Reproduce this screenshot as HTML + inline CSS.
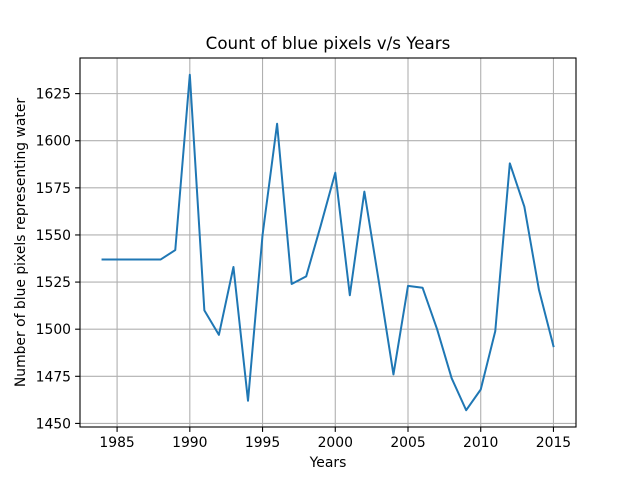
<!DOCTYPE html>
<html><head><meta charset="utf-8"><style>
body{margin:0;background:#fff;}
svg{display:block;font-family:"DejaVu Sans","Liberation Sans",sans-serif;}
</style></head><body>
<svg id="chart" width="640" height="480"></svg>
<script>
const years=[1984,1985,1986,1987,1988,1989,1990,1991,1992,1993,1994,1995,1996,1997,1998,1999,2000,2001,2002,2003,2004,2005,2006,2007,2008,2009,2010,2011,2012,2013,2014,2015];
const counts=[1537,1537,1537,1537,1537,1542,1635,1510,1497,1533,1462,1550,1609,1524,1528,1555,1583,1518,1573,1525,1476,1523,1522,1500,1474,1457,1468,1499,1588,1565,1521,1491];
const xTicks=[1985,1990,1995,2000,2005,2010,2015];
const yTicks=[1450,1475,1500,1525,1550,1575,1600,1625];

const svg=document.getElementById('chart');
const NS='http://www.w3.org/2000/svg';
const L=80,R=576,T=58,B=427;
const xmin0=Math.min(...years),xmax0=Math.max(...years);
const ymin0=Math.min(...counts),ymax0=Math.max(...counts);
const xm=(xmax0-xmin0)*0.05,ym=(ymax0-ymin0)*0.05;
const x0=xmin0-xm,x1=xmax0+xm,y0=ymin0-ym,y1=ymax0+ym;
const X=v=>L+(v-x0)/(x1-x0)*(R-L);
const Y=v=>B-(v-y0)/(y1-y0)*(B-T);
function mk(tag,attrs,text){const e=document.createElementNS(NS,tag);for(const k in attrs)e.setAttribute(k,attrs[k]);if(text!==undefined)e.textContent=text;svg.appendChild(e);return e;}

xTicks.forEach(t=>{
  const g=mk('line',{x1:X(t),x2:X(t),y1:T,y2:B,stroke:'#b0b0b0','stroke-width':1.1});
  
  
  mk('line',{x1:X(t),x2:X(t),y1:B,y2:B+4.9,stroke:'#000','stroke-width':1.1});
  const l=mk('text',{x:X(t),y:B+20,'font-size':13.9,'text-anchor':'middle'},t);
  
  
});
yTicks.forEach(t=>{
  const g=mk('line',{x1:L,x2:R,y1:Y(t),y2:Y(t),stroke:'#b0b0b0','stroke-width':1.1});
  
  
  mk('line',{x1:L-4.9,x2:L,y1:Y(t),y2:Y(t),stroke:'#000','stroke-width':1.1});
  const l=mk('text',{x:L-9,y:Y(t)+5,'font-size':13.9,'text-anchor':'end'},t);
  
  
});
const pts=years.map((y,i)=>X(y).toFixed(2)+','+Y(counts[i]).toFixed(2)).join(' ');
const line=mk('polyline',{points:pts,fill:'none',stroke:'#1f77b4','stroke-width':2,'stroke-linejoin':'round','stroke-linecap':'square'});


const frame=mk('rect',{x:L,y:T,width:R-L,height:B-T,fill:'none',stroke:'#000','stroke-width':1.1});


const title=mk('text',{x:(L+R)/2,y:T-9,'font-size':16.7,'text-anchor':'middle'},'Count of blue pixels v/s Years');


const xl=mk('text',{x:(L+R)/2,y:467,'font-size':13.9,'text-anchor':'middle'},'Years');


const yl=mk('text',{x:0,y:0,'font-size':13.9,'text-anchor':'middle',transform:'translate(25,'+((T+B)/2)+') rotate(-90)'},'Number of blue pixels representing water');


</script>
</body></html>
